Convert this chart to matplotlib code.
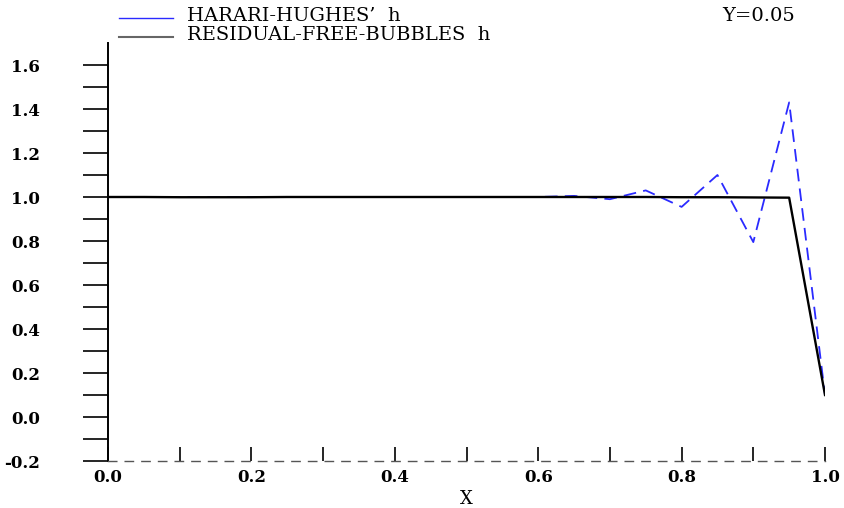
import numpy as np
import matplotlib
matplotlib.use('Agg')
from matplotlib import pyplot as plt
from matplotlib.lines import Line2D

# data
x = np.round(np.arange(0, 1.0001, 0.05), 2)
harari_h = [1.0, 1.0, 1.0, 1.0, 1.0, 1.0, 1.0, 1.0, 1.0, 1.0, 1.0,
            1.0, 1.0, 1.005, 0.99, 1.03, 0.955, 1.10, 0.795, 1.43, 0.10]
rfb_h = [1.0, 1.0, 0.999, 0.999, 0.999, 1.0, 1.0, 1.0, 1.0, 1.0, 1.0,
         1.0, 1.0, 1.0, 1.0, 1.0, 0.999, 0.999, 0.998, 0.997, 0.10]
legend_labels = ["HARARI-HUGHES\u2019  h", "RESIDUAL-FREE-BUBBLES  h"]
y_value_text = "Y=0.05"

plt.rcParams['font.family'] = ['DejaVu Serif']

fig = plt.figure(figsize=(8.44, 5.08), dpi=100)
W, H = 844, 508
ax = fig.add_axes([108 / W, (H - 461) / H, (825 - 108) / W, (461 - 43) / H])

ax.plot(x, harari_h, color='#2a2aff', linestyle=(0, (7, 4)), linewidth=1.3)
ax.plot(x, rfb_h, color='black', linewidth=1.7)

ax.set_xlim(0, 1.0)
ax.set_ylim(-0.2, 1.7)

# frame: only left axis solid, bottom axis dashed grey
for s in ['top', 'right']:
    ax.spines[s].set_visible(False)
ax.spines['left'].set_linewidth(1.4)
ax.spines['bottom'].set_color('#555555')
ax.spines['bottom'].set_linestyle((0, (6, 6)))
ax.spines['bottom'].set_linewidth(1.0)

ax.set_xticks(np.arange(0, 1.01, 0.2))
ax.set_xticks(np.arange(0, 1.01, 0.1), minor=True)
ax.set_yticks(np.arange(-0.2, 1.61, 0.2))
ax.set_yticks(np.arange(-0.2, 1.61, 0.1), minor=True)
ax.set_xticklabels(['%.1f' % v for v in np.arange(0, 1.01, 0.2)])
ax.set_yticklabels(['%.1f' % v for v in np.arange(-0.2, 1.61, 0.2)])

ax.tick_params(axis='x', which='both', direction='in', length=10, width=1.2,
               color='black', pad=6)
ax.tick_params(axis='y', which='both', direction='out', length=18, width=1.2,
               pad=31)
for lab in ax.get_xticklabels() + ax.get_yticklabels():
    lab.set_fontsize(12)
    lab.set_fontweight('bold')

ax.set_xlabel('X', fontsize=13, labelpad=3)

# legend drawn above the axes
fig.add_artist(Line2D([119 / W, 173 / W], [1 - 18 / H, 1 - 18 / H],
                      color='#2a2aff', linewidth=1.0))
fig.add_artist(Line2D([119 / W, 173 / W], [1 - 37 / H, 1 - 37 / H],
                      color='#666666', linewidth=1.5))
fig.text(187 / W, 1 - 16 / H, legend_labels[0], fontsize=14, va='center')
fig.text(187 / W, 1 - 35 / H, legend_labels[1], fontsize=14, va='center')
fig.text(722 / W, 1 - 16 / H, y_value_text, fontsize=14, va='center')

fig.savefig('out.png', dpi=100)
